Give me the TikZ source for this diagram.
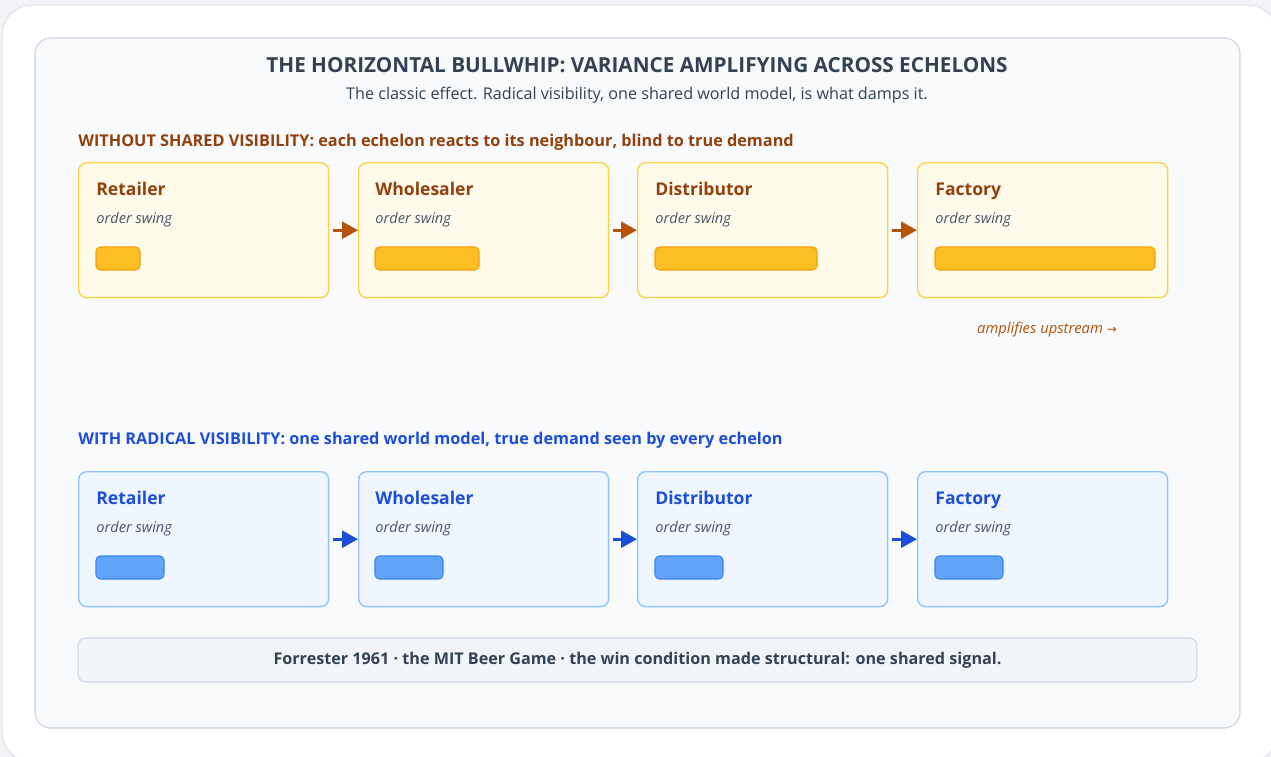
\documentclass[tikz,border=0pt]{standalone}
\usepackage{fontspec}
\setmainfont{Open Sans}
\newfontfamily\arrowfont{DejaVu Sans}
\usetikzlibrary{arrows.meta}

\definecolor{pagebg}{HTML}{F1F3F6}
\definecolor{cardline}{HTML}{E2E5EA}
\definecolor{panelbg}{HTML}{F8FAFC}
\definecolor{panelline}{HTML}{CBD5E1}
\definecolor{ink}{HTML}{334155}
\definecolor{muted}{HTML}{475569}
\definecolor{amberfill}{HTML}{FFFBEB}
\definecolor{amberline}{HTML}{FCD34D}
\definecolor{amberbar}{HTML}{FBBF24}
\definecolor{amberbarline}{HTML}{F59E0B}
\definecolor{rust}{HTML}{92400E}
\definecolor{rustarrow}{HTML}{B45309}
\definecolor{bluefill}{HTML}{EFF6FF}
\definecolor{blueline}{HTML}{93C5FD}
\definecolor{bluebar}{HTML}{60A5FA}
\definecolor{bluebarline}{HTML}{3B82F6}
\definecolor{navy}{HTML}{1D4ED8}
\definecolor{footfill}{HTML}{F1F5F9}

\begin{document}
\begin{tikzpicture}[x=0.02cm, y=-0.02cm,
    ybox/.style={draw=amberline, fill=amberfill, line width=0.8pt, rounded corners=4.5pt, minimum width=5cm, minimum height=2.7cm, anchor=north west, inner sep=0pt},
    bbox/.style={ybox, draw=blueline, fill=bluefill},
    ytitle/.style={anchor=base west, inner sep=0pt, font=\fontsize{10}{12}\selectfont\bfseries, text=rust},
    btitle/.style={ytitle, text=navy},
    swing/.style={anchor=base west, inner sep=0pt, font=\fontsize{8.3}{10}\selectfont\itshape, text=muted},
    ybar/.style={draw=amberbarline, fill=amberbar, line width=0.6pt, rounded corners=2.5pt},
    bbar/.style={ybar, draw=bluebarline, fill=bluebar},
    section/.style={anchor=base west, inner sep=0pt, font=\fontsize{9.25}{11}\selectfont\bfseries},
    yflow/.style={-{Triangle[length=9pt, width=9.5pt]}, line width=1.7pt, color=rustarrow, shorten <=2pt},
    bflow/.style={yflow, color=navy}
]
\useasboundingbox (0,0) rectangle (1271,757);
\fill[pagebg] (0,0) rectangle (1271,757);
\draw[cardline, fill=white, line width=0.8pt, rounded corners=17pt] (2,5) rectangle (1278,762);
\draw[panelline, fill=panelbg, line width=0.6pt, rounded corners=9pt] (35,38) rectangle (1240,728);

% heading
\node[anchor=base, inner sep=0pt, font=\fontsize{11.8}{14}\selectfont\bfseries, text=ink] (head) at (637,73)
  {THE HORIZONTAL BULLWHIP: VARIANCE AMPLIFYING ACROSS ECHELONS};
\node[anchor=base, inner sep=0pt, font=\fontsize{9.2}{11}\selectfont, text=ink] (sub) at (637,100)
  {The classic effect. Radical visibility, one shared world model, is what damps it.};

% row without visibility
\node[section, text=rust] (lblA) at (78,147) {WITHOUT SHARED VISIBILITY: each echelon reacts to its neighbour, blind to true demand};

\node[ybox] (r1) at (78,162) {};
\node[ybox] (w1) at (358,162) {};
\node[ybox] (d1) at (637,162) {};
\node[ybox] (f1) at (917,162) {};

\node[ytitle] (r1t) at (96,195) {Retailer};
\node[ytitle] (w1t) at (375,195) {Wholesaler};
\node[ytitle] (d1t) at (655,195) {Distributor};
\node[ytitle] (f1t) at (935,195) {Factory};

\node[swing] (r1s) at (96,223) {order swing};
\node[swing] (w1s) at (375,223) {order swing};
\node[swing] (d1s) at (655,223) {order swing};
\node[swing] (f1s) at (935,223) {order swing};

\draw[ybar] (96,247) rectangle (140,270);
\draw[ybar] (375,247) rectangle (479,270);
\draw[ybar] (655,247) rectangle (817,270);
\draw[ybar] (935,247) rectangle (1155,270);

\draw[yflow] (r1) -- (w1);
\draw[yflow] (w1) -- (d1);
\draw[yflow] (d1) -- (f1);

\node[anchor=base, inner sep=0pt, font=\fontsize{8.4}{10}\selectfont\itshape, text=rustarrow] (amp) at (1047,333)
  {amplifies upstream {\arrowfont\upshape\fontsize{6.8}{8}\selectfont →}};

% row with one shared world model
\node[section, text=navy] (lblB) at (78,444) {WITH RADICAL VISIBILITY: one shared world model, true demand seen by every echelon};

\node[bbox] (r2) at (78,471) {};
\node[bbox] (w2) at (358,471) {};
\node[bbox] (d2) at (637,471) {};
\node[bbox] (f2) at (917,471) {};

\node[btitle] (r2t) at (96,504) {Retailer};
\node[btitle] (w2t) at (375,504) {Wholesaler};
\node[btitle] (d2t) at (655,504) {Distributor};
\node[btitle] (f2t) at (935,504) {Factory};

\node[swing] (r2s) at (96,532) {order swing};
\node[swing] (w2s) at (375,532) {order swing};
\node[swing] (d2s) at (655,532) {order swing};
\node[swing] (f2s) at (935,532) {order swing};

\draw[bbar] (96,556) rectangle (164,579);
\draw[bbar] (375,556) rectangle (443,579);
\draw[bbar] (655,556) rectangle (723,579);
\draw[bbar] (935,556) rectangle (1003,579);

\draw[bflow] (r2) -- (w2);
\draw[bflow] (w2) -- (d2);
\draw[bflow] (d2) -- (f2);

% footnote strip
\node[draw=panelline, fill=footfill, line width=0.6pt, rounded corners=4.5pt, minimum width=22.38cm, minimum height=0.88cm,
  font=\fontsize{9.2}{11}\selectfont\bfseries, text=ink] (foot) at (637.5,660)
  {Forrester 1961 · the MIT Beer Game · the win condition made structural: one shared signal.};
\end{tikzpicture}
\end{document}
